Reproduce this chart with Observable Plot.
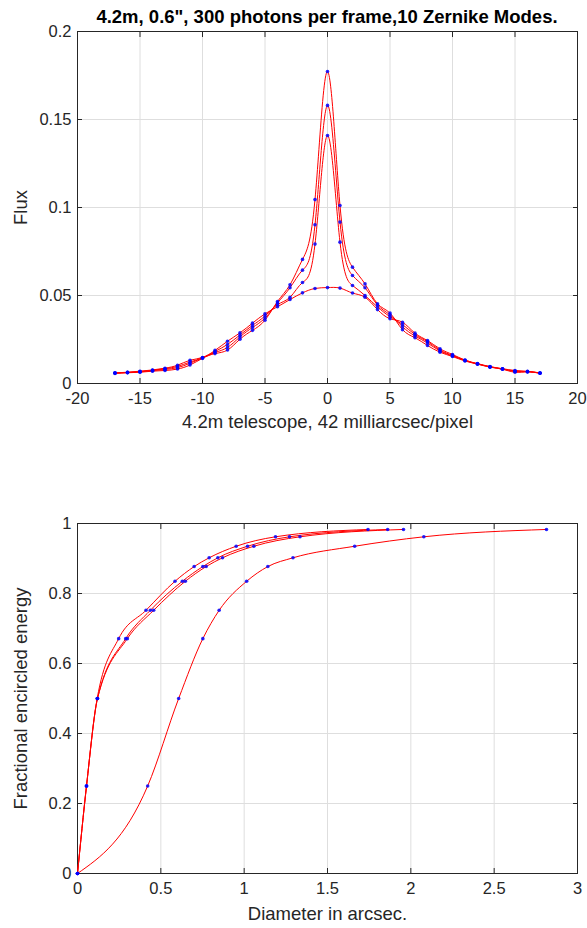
<!DOCTYPE html>
<html><head><meta charset="utf-8">
<script src="https://cdn.jsdelivr.net/npm/d3@7"></script>
<script src="https://cdn.jsdelivr.net/npm/@observablehq/plot@0.6"></script>
<style>
body{margin:0;background:#fff;}
#wrap{position:relative;width:587px;height:928px;overflow:hidden;font-family:"Liberation Sans",Arial,sans-serif;}
#title{position:absolute;top:6px;left:77px;width:500px;text-align:center;font-weight:bold;font-size:18.5px;color:#000;white-space:nowrap;}
.p{position:absolute;left:0;}
</style></head><body>
<div id="wrap"><div id="title">4.2m, 0.6", 300 photons per frame,10 Zernike Modes.</div></div>
<script>
// ---- Top panel data: flux vs pixel offset ----
const pixels = [-17,-16,-15,-14,-13,-12,-11,-10,-9,-8,-7,-6,-5,-4,-3,-2,-1,0,1,2,3,4,5,6,7,8,9,10,11,12,13,14,15,16,17];
const fluxA = [0.0057,0.0061,0.0064,0.0070,0.0074,0.0082,0.0105,0.0143,0.0170,0.0190,0.0252,0.0302,0.0360,0.0466,0.0561,0.0705,0.1045,0.1773,0.1011,0.0661,0.0566,0.0453,0.0400,0.0306,0.0260,0.0216,0.0178,0.0153,0.0128,0.0110,0.0093,0.0081,0.0064,0.0066,0.0058];
const fluxB = [0.0059,0.0062,0.0066,0.0073,0.0080,0.0090,0.0115,0.0145,0.0176,0.0205,0.0265,0.0318,0.0372,0.0458,0.0544,0.0644,0.0902,0.1580,0.0917,0.0614,0.0544,0.0446,0.0390,0.0322,0.0270,0.0230,0.0185,0.0157,0.0130,0.0111,0.0094,0.0082,0.0068,0.0067,0.0059];
const fluxC = [0.0060,0.0063,0.0068,0.0075,0.0084,0.0097,0.0122,0.0146,0.0182,0.0222,0.0276,0.0330,0.0384,0.0448,0.0490,0.0574,0.0792,0.1409,0.0803,0.0557,0.0500,0.0435,0.0380,0.0335,0.0278,0.0238,0.0190,0.0160,0.0132,0.0112,0.0095,0.0083,0.0071,0.0068,0.0060];
const fluxD = [0.0061,0.0064,0.0070,0.0077,0.0087,0.0104,0.0132,0.0148,0.0188,0.0240,0.0288,0.0343,0.0396,0.0436,0.0477,0.0515,0.0540,0.0545,0.0542,0.0514,0.0490,0.0420,0.0368,0.0348,0.0286,0.0244,0.0197,0.0165,0.0133,0.0113,0.0096,0.0084,0.0074,0.0069,0.0060];
const topXTicks = [-20,-15,-10,-5,0,5,10,15,20];
const topYTicks = [0,0.05,0.1,0.15,0.2];

// ---- Bottom panel data: encircled energy vs diameter ----
const eeLevels = [0,0.25,0.5,0.671,0.752,0.835,0.877,0.902,0.935,0.962,0.983];
const diamA = [0,0.054,0.118,0.247,0.411,0.585,0.700,0.790,0.952,1.188,1.743];
const diamB = [0,0.054,0.120,0.289,0.437,0.629,0.752,0.842,1.020,1.272,1.861];
const diamC = [0,0.054,0.120,0.299,0.457,0.647,0.772,0.870,1.058,1.335,1.956];
const diamD = [0,0.421,0.607,0.752,0.850,1.015,1.142,1.293,1.663,2.078,2.814];
const botXTicks = [0,0.5,1,1.5,2,2.5,3];
const botYTicks = [0,0.2,0.4,0.6,0.8,1];

const fluxRows = [];
[["A",fluxA],["B",fluxB],["C",fluxC],["D",fluxD]].forEach(([s,arr]) =>
  arr.forEach((v,i) => fluxRows.push({series:s, x:pixels[i], y:v})));
const eeRows = [];
[["A",diamA],["B",diamB],["C",diamC],["D",diamD]].forEach(([s,arr]) =>
  arr.forEach((v,i) => eeRows.push({series:s, x:v, y:eeLevels[i]})));

const ink = "#262626";
const fmt = d => String(d);
const labelFont = 18.5;
function axes(xt, yt, xlabel, ylabel, xOff, yOff) {
  return [
    Plot.gridX(xt, {stroke:"#dedede", strokeOpacity:1}),
    Plot.gridY(yt, {stroke:"#dedede", strokeOpacity:1}),
    Plot.axisX(xt, {anchor:"bottom", tickSize:-5, tickPadding:14, tickFormat:fmt, stroke:ink, color:ink, label:null}),
    Plot.axisX({anchor:"bottom", ticks:[], tickSize:0, color:ink, fontSize:labelFont, label:xlabel, labelAnchor:"center", labelArrow:"none", labelOffset:xOff}),
    Plot.axisX(xt, {anchor:"top", tickSize:-5, tickFormat:()=>"", stroke:ink, label:null}),
    Plot.axisY(yt, {anchor:"left", tickSize:-5, tickPadding:11, tickFormat:fmt, stroke:ink, color:ink, label:null}),
    Plot.axisY({anchor:"left", ticks:[], tickSize:0, color:ink, fontSize:labelFont, label:ylabel, labelAnchor:"center", labelArrow:"none", labelOffset:yOff}),
    Plot.axisY(yt, {anchor:"right", tickSize:-5, tickFormat:()=>"", stroke:ink, label:null}),
    Plot.frame({stroke:ink, strokeWidth:1})
  ];
}
const style = {fontSize:"16.5px", fontFamily:"'Liberation Sans', Arial, sans-serif", color:ink, background:"transparent", overflow:"visible"};

const topPlot = Plot.plot({
  width:587, height:430, marginTop:31, marginBottom:47, marginLeft:77, marginRight:10,
  style,
  x:{domain:[-20,20]}, y:{domain:[0,0.2]},
  marks:[
    ...axes(topXTicks, topYTicks, "4.2m telescope, 42 milliarcsec/pixel", "Flux", 44, 64),
    Plot.line(fluxRows, {x:"x", y:"y", z:"series", stroke:"#ff0000", strokeWidth:1, curve:"natural"}),
    Plot.dot(fluxRows, {x:"x", y:"y", r:1.8, fill:"#0000ff", fillOpacity:0.85, stroke:null})
  ]
});
topPlot.classList.add("p"); topPlot.style.top = "0px";

const botPlot = Plot.plot({
  width:587, height:448, marginTop:43, marginBottom:55, marginLeft:77, marginRight:10,
  style,
  x:{domain:[0,3]}, y:{domain:[0,1]},
  marks:[
    ...axes(botXTicks, botYTicks, "Diameter in arcsec.", "Fractional encircled energy", 46, 64),
    Plot.line(eeRows, {x:"x", y:"y", z:"series", stroke:"#ff0000", strokeWidth:1, curve:"monotone-x"}),
    Plot.dot(eeRows, {x:"x", y:"y", r:1.8, fill:"#0000ff", fillOpacity:0.85, stroke:null})
  ]
});
botPlot.classList.add("p"); botPlot.style.top = "480px";

const wrap = document.getElementById("wrap");
wrap.appendChild(topPlot);
wrap.appendChild(botPlot);
</script>
</body></html>
